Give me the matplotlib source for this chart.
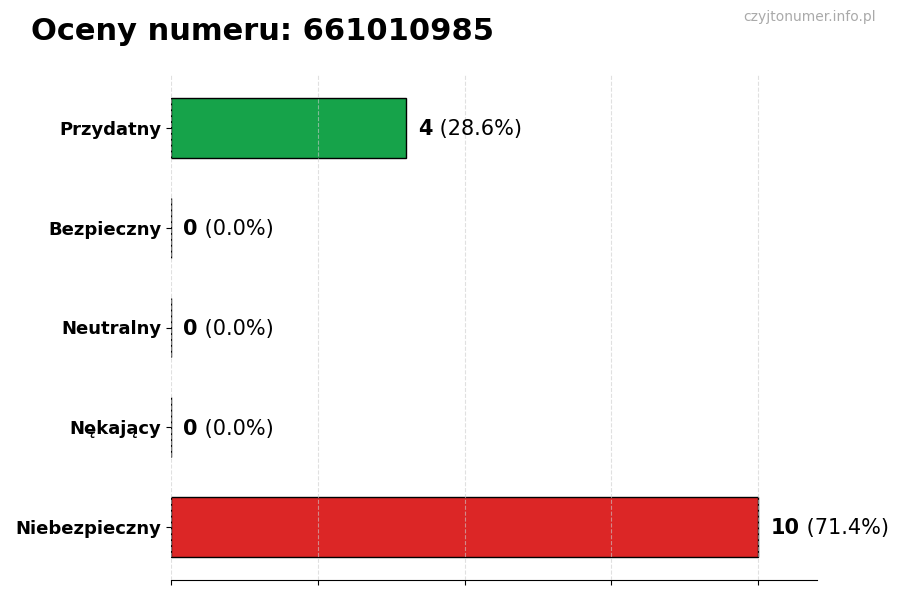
import matplotlib
matplotlib.use("Agg")
import matplotlib.pyplot as plt

categories = ["Przydatny", "Bezpieczny", "Neutralny", "Nękający", "Niebezpieczny"]
values = [4, 0, 0, 0, 10]
percents = [28.6, 0.0, 0.0, 0.0, 71.4]
colors = ["#16a34a", "#9ca3af", "#6b7280", "#f59e0b", "#dc2626"]
title = "Oceny numeru: 661010985"
watermark = "czyjtonumer.info.pl"

fig = plt.figure(figsize=(9, 6), dpi=100)
ax = fig.add_axes([171/900, 1-580/600, (817-171)/900, (580-75)/600])

ypos = list(range(len(categories)))
ax.barh(ypos, values, height=0.6, color=colors, edgecolor="black", linewidth=1, zorder=2)
ax.set_yticks(ypos)
ax.set_yticklabels(categories, fontsize=13, fontweight="bold")
ax.invert_yaxis()
ax.set_xlim(0, 11)
ax.set_xticks([0, 2.5, 5, 7.5, 10])
ax.set_xticklabels([])
ax.grid(axis="x", linestyle="--", color="#cccccc", alpha=0.6, zorder=3)
ax.set_axisbelow(False)
for s in ["top", "right", "left"]:
    ax.spines[s].set_visible(False)

for y, v, p in zip(ypos, values, percents):
    t = ax.annotate(f"{v}", xy=(v, y), xytext=(9, -1), textcoords="offset points",
                    va="center", ha="left", fontsize=15, fontweight="bold")
    ax.annotate(f" ({p:.1f}%)", xy=(1, 0.5), xycoords=t, va="center", ha="left", fontsize=15)

fig.text(31/900, 1-17/600, title, fontsize=22, fontweight="bold", va="top", ha="left")
fig.text(876/900, 1-10/600, watermark, fontsize=10, color="#aaaaaa", va="top", ha="right")

fig.savefig("out.png", dpi=100)
